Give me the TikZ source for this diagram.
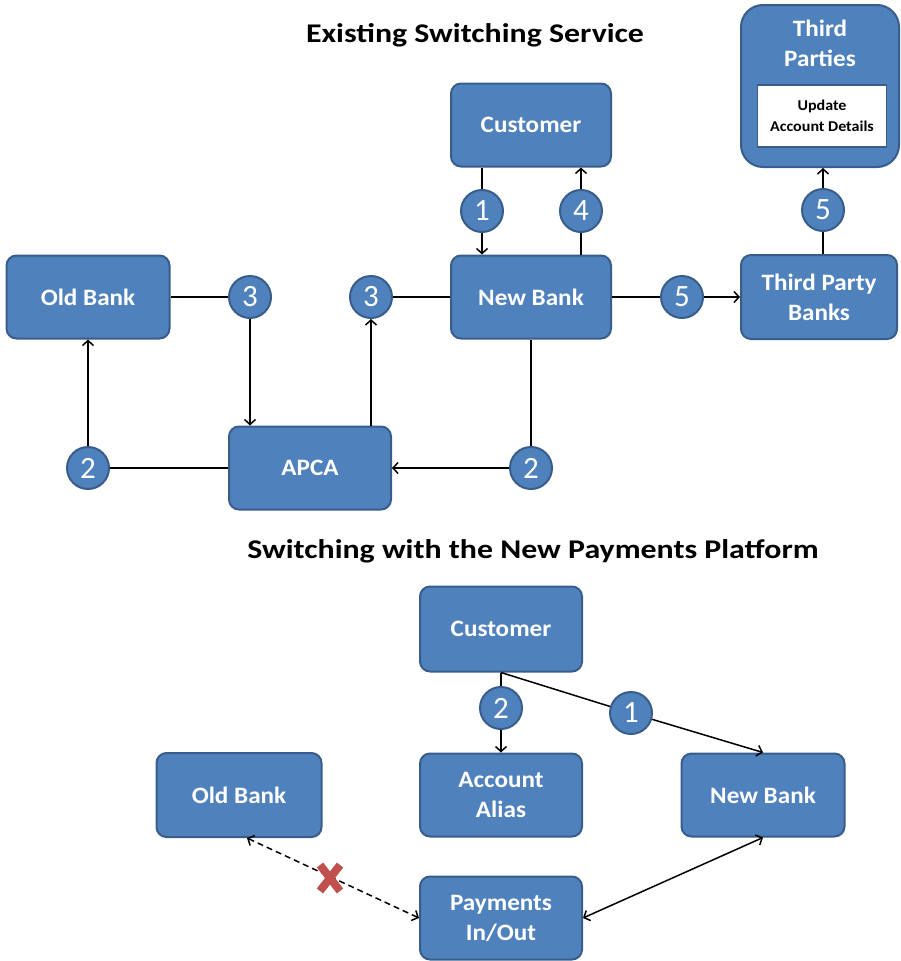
\documentclass[tikz,border=0pt]{standalone}
\usepackage{fontspec}
\setmainfont{Carlito}
\newfontfamily\titlefont[FakeStretch=1.18]{Carlito}
\newfontfamily\boxfont[FakeStretch=1.07]{Carlito}
\usetikzlibrary{arrows.meta,calc}
\definecolor{boxblue}{HTML}{4F81BD}
\definecolor{boxedge}{HTML}{385D8A}
\definecolor{crossred}{HTML}{C0504D}
\tikzset{
  box/.style={rectangle, rounded corners=10pt, fill=boxblue, draw=boxedge, line width=2pt,
    text=white, font=\boxfont\bfseries\fontsize{23.5}{30}\selectfont, align=center, inner sep=0pt},
  numc/.style={circle, fill=boxblue, draw=boxedge, line width=2pt, minimum size=42pt,
    inner sep=0pt, text=white, font=\fontsize{31}{31}\selectfont},
  conn/.style={line width=1.5pt, draw=black},
  arr/.style={conn, -{Straight Barb[length=5pt,width=11pt,line width=1.5pt]}},
  darr/.style={conn, {Straight Barb[length=5pt,width=11pt,line width=1.5pt]}-{Straight Barb[length=5pt,width=11pt,line width=1.5pt]}},
  title/.style={font=\titlefont\bfseries\fontsize{27}{30}\selectfont, text=black}
}
\begin{document}
\begin{tikzpicture}[x=1pt,y=-1pt]
\useasboundingbox (0,0) rectangle (901,961);
% titles
\node[title] (t1) at (475,35) {Existing Switching Service};
\node[title] (t2) at (533,551) {Switching with the New Payments Platform};
% top boxes
\node[box, minimum width=160pt, minimum height=83pt] (cust) at (531,125) {Customer};
\node[box, minimum width=160pt, minimum height=83pt] (nb) at (531,297) {New Bank};
\node[box, minimum width=163pt, minimum height=83pt] (ob) at (88,297) {Old Bank};
\node[box, minimum width=162pt, minimum height=83pt] (apca) at (310,468) {APCA};
\node[box, minimum width=156pt, minimum height=84pt] (tpb) at (819,297) {Third Party\\Banks};
\node[box, minimum width=158pt, minimum height=162pt, rounded corners=22pt] (tp) at (820,86) {};
\node[text=white, font=\boxfont\bfseries\fontsize{23.5}{30}\selectfont, align=center] (tptext) at (820,43) {Third\\Parties};
\node[rectangle, fill=white, draw=boxedge, line width=1.5pt, minimum width=129pt, minimum height=62pt,
  align=center, font=\boxfont\bfseries\fontsize{15}{21}\selectfont, inner sep=0pt] (upd) at (822,116) {Update\\Account Details};
% top circles
\node[numc] (c1) at (482,211) {1};
\node[numc] (c4) at (581,211) {4};
\node[numc] (c3a) at (250,297) {3};
\node[numc] (c3b) at (371,297) {3};
\node[numc] (c5a) at (682,297) {5};
\node[numc] (c5b) at (823,210) {5};
\node[numc] (c2a) at (88,468) {2};
\node[numc] (c2b) at (531,468) {2};
% top connectors
\draw[conn] (c1 |- cust.south) -- (c1);
\draw[arr] (c1) -- (c1 |- nb.north);
\draw[conn] (c4 |- nb.north) -- (c4);
\draw[arr] (c4) -- (c4 |- cust.south);
\draw[conn] (ob.east) -- (c3a);
\draw[arr] (c3a) -- (c3a |- apca.north);
\draw[conn] (nb.west) -- (c3b);
\draw[arr] (c3b |- apca.north) -- (c3b);
\draw[conn] (nb.east) -- (c5a);
\draw[arr] (c5a) -- (tpb.west);
\draw[conn] (c5b |- tpb.north) -- (c5b);
\draw[arr] (c5b) -- (c5b |- tp.south);
\draw[conn] (apca.west) -- (c2a);
\draw[arr] (c2a) -- (c2a |- ob.south);
\draw[conn] (nb.south) -- (c2b);
\draw[arr] (c2b) -- (apca.east);
% bottom boxes
\node[box, minimum width=162pt, minimum height=85pt] (cust2) at (501,629) {Customer};
\node[box, minimum width=162pt, minimum height=83pt] (alias) at (501,795) {Account\\Alias};
\node[box, minimum width=163pt, minimum height=83pt] (nb2) at (763,795) {New Bank};
\node[box, minimum width=165pt, minimum height=84pt] (ob2) at (239,795) {Old Bank};
\node[box, minimum width=162pt, minimum height=83pt] (pay) at (501,918) {Payments\\In/Out};
% bottom circles
\node[numc] (d2) at (501,708) {2};
\node[numc] (d1) at (631,713) {1};
% bottom connectors
\draw[conn] (cust2.south) -- (d2);
\draw[arr] (d2) -- (alias.north);
\draw[conn] (cust2.south) -- (d1);
\draw[arr] (d1) -- (nb2.north);
\draw[darr] (nb2.south) -- (pay.east);
\draw[darr, dashed, dash pattern=on 6pt off 4pt] ($(ob2.south)+(8,0)$) -- (pay.west);
% red cross
\coordinate (x) at (330,878);
\draw[crossred, line width=8pt] ($(x)+(-10,-13)$) -- ($(x)+(10,13)$);
\draw[crossred, line width=8pt] ($(x)+(10,-13)$) -- ($(x)+(-10,13)$);
\end{tikzpicture}
\end{document}
